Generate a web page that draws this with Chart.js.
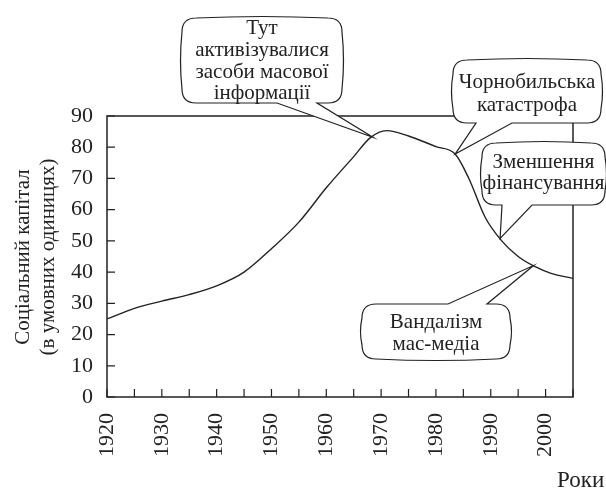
<!DOCTYPE html>
<html>
<head>
<meta charset="utf-8">
<script src="https://cdn.jsdelivr.net/npm/chart.js@4"></script>
<style>
  body { margin: 0; background: #fff; }
  canvas { display: block; }
</style>
</head>
<body>
<canvas id="chart" width="606" height="488"></canvas>
<script>
// дані кривої (роки / соціальний капітал)
const years = [1920, 1925, 1930, 1935, 1940, 1945, 1950, 1955, 1960, 1965, 1968, 1971, 1975, 1980, 1983.5, 1986, 1989, 1992, 1995, 1998, 2001, 2005];
const capital = [25, 28.4, 30.7, 32.8, 35.6, 40, 47.5, 56, 67, 77, 83, 85.3, 83.6, 80.2, 77.8, 70, 57.5, 50, 45, 41.8, 39.6, 38];
const xLabelYears = [1920, 1930, 1940, 1950, 1960, 1970, 1980, 1990, 2000];

const FONT = '"Liberation Serif", serif';
const INK = '#222';

// виноски: текст, рамка (px), вістря (дані), основа вістря (px)
const callouts = [
  { lines: ['Тут', 'активізувалися', 'засоби масової', 'інформації'], box: [182, 18, 342, 103], lineY: [28, 50, 72, 93], tip: [1968.5, 83.2], side: 'bottom', base: [277, 317] },
  { lines: ['Чорнобильська', 'катастрофа'], box: [453, 60, 601, 123], lineY: [82, 105], tip: [1983.5, 77.8], side: 'bottom', base: [476, 512] },
  { lines: ['Зменшення', 'фінансування'], box: [482, 143, 605, 205], lineY: [162, 183], tip: [1991.7, 50.8], side: 'bottom', base: [502, 532] },
  { lines: ['Вандалізм', 'мас-медіа'], box: [362, 304, 510, 359], lineY: [322, 344], tip: [1997.8, 42.1], side: 'top', base: [448, 487] }
];

function bubble(ctx, c, tx, ty) {
  const [l, t, rt, b] = c.box;
  const r = 14, bulge = 3;
  const mx = (l + rt) / 2, my = (t + b) / 2;
  ctx.beginPath();
  ctx.moveTo(l, t + r);
  ctx.quadraticCurveTo(l, t, l + r, t);
  if (c.side === 'top') {
    ctx.lineTo(c.base[0], t);
    ctx.lineTo(tx, ty);
    ctx.lineTo(c.base[1], t);
    ctx.lineTo(rt - r, t);
  } else {
    ctx.quadraticCurveTo(mx, t - bulge, rt - r, t);
  }
  ctx.quadraticCurveTo(rt, t, rt, t + r);
  ctx.quadraticCurveTo(rt + bulge, my, rt, b - r);
  ctx.quadraticCurveTo(rt, b, rt - r, b);
  if (c.side === 'bottom') {
    ctx.lineTo(c.base[1], b);
    ctx.lineTo(tx, ty);
    ctx.lineTo(c.base[0], b);
    ctx.lineTo(l + r, b);
  } else {
    ctx.quadraticCurveTo(mx, b + bulge, l + r, b);
  }
  ctx.quadraticCurveTo(l, b, l, b - r);
  ctx.quadraticCurveTo(l - bulge, my, l, t + r);
  ctx.closePath();
  ctx.fillStyle = '#fff';
  ctx.fill();
  ctx.strokeStyle = INK;
  ctx.lineWidth = 1.2;
  ctx.stroke();
}

const framePlugin = {
  id: 'frame',
  afterDatasetsDraw(chart) {
    const { ctx, chartArea: a, scales } = chart;
    ctx.save();
    ctx.strokeStyle = INK;
    ctx.lineWidth = 1.5;
    ctx.strokeRect(a.left, a.top, a.right - a.left, a.bottom - a.top);
    ctx.lineWidth = 1.2;
    ctx.beginPath();
    scales.x.ticks.forEach(tk => {
      const x = scales.x.getPixelForValue(tk.value);
      ctx.moveTo(x, a.bottom);
      ctx.lineTo(x, a.bottom - 8);
    });
    scales.y.ticks.forEach(tk => {
      const y = scales.y.getPixelForValue(tk.value);
      ctx.moveTo(a.left, y);
      ctx.lineTo(a.left + 8, y);
    });
    ctx.stroke();
    ctx.restore();
  },
  afterDraw(chart) {
    const { ctx, scales } = chart;
    ctx.save();
    callouts.forEach(c => {
      const tx = scales.x.getPixelForValue(c.tip[0]);
      const ty = scales.y.getPixelForValue(c.tip[1]);
      bubble(ctx, c, tx, ty);
      ctx.fillStyle = INK;
      ctx.font = '21px ' + FONT;
      ctx.textAlign = 'center';
      ctx.textBaseline = 'middle';
      const cx = (c.box[0] + c.box[2]) / 2;
      c.lines.forEach((s, i) => ctx.fillText(s, cx, c.lineY[i]));
    });
    // підписи осей
    ctx.fillStyle = INK;
    ctx.font = '23px ' + FONT;
    ctx.textAlign = 'left';
    ctx.textBaseline = 'alphabetic';
    ctx.fillText('Роки', 557, 487);
    ctx.font = '21px ' + FONT;
    ctx.translate(0, 257);
    ctx.rotate(-Math.PI / 2);
    ctx.textAlign = 'center';
    ctx.textBaseline = 'middle';
    ctx.fillText('Соціальний капітал', 0, 23);
    ctx.fillText('(в умовних одиницях)', 0, 48);
    ctx.restore();
  }
};

new Chart(document.getElementById('chart'), {
  type: 'line',
  data: {
    datasets: [{
      data: years.map((y, i) => ({ x: y, y: capital[i] })),
      borderColor: INK,
      borderWidth: 1.4,
      pointRadius: 0,
      fill: false,
      cubicInterpolationMode: 'monotone'
    }]
  },
  options: {
    responsive: false,
    animation: false,
    layout: { padding: { top: 116, right: 33, left: 0, bottom: 0 } },
    plugins: { legend: { display: false }, tooltip: { enabled: false } },
    scales: {
      x: {
        type: 'linear', min: 1920, max: 2005,
        grid: { display: false, drawTicks: false },
        border: { display: false },
        ticks: {
          stepSize: 5, autoSkip: false, maxRotation: 90, minRotation: 90, padding: 16,
          color: INK, font: { family: FONT, size: 22 },
          callback: v => xLabelYears.includes(v) ? String(v) : ''
        },
        afterFit: s => { s.height = 91; s.paddingLeft = 0; s.paddingRight = 0; }
      },
      y: {
        min: 0, max: 90,
        grid: { display: false, drawTicks: false },
        border: { display: false },
        ticks: { stepSize: 10, padding: 14, color: INK, font: { family: FONT, size: 22 } },
        afterFit: s => { s.width = 107; s.paddingTop = 0; s.paddingBottom = 0; }
      }
    }
  },
  plugins: [framePlugin]
});
</script>
</body>
</html>
